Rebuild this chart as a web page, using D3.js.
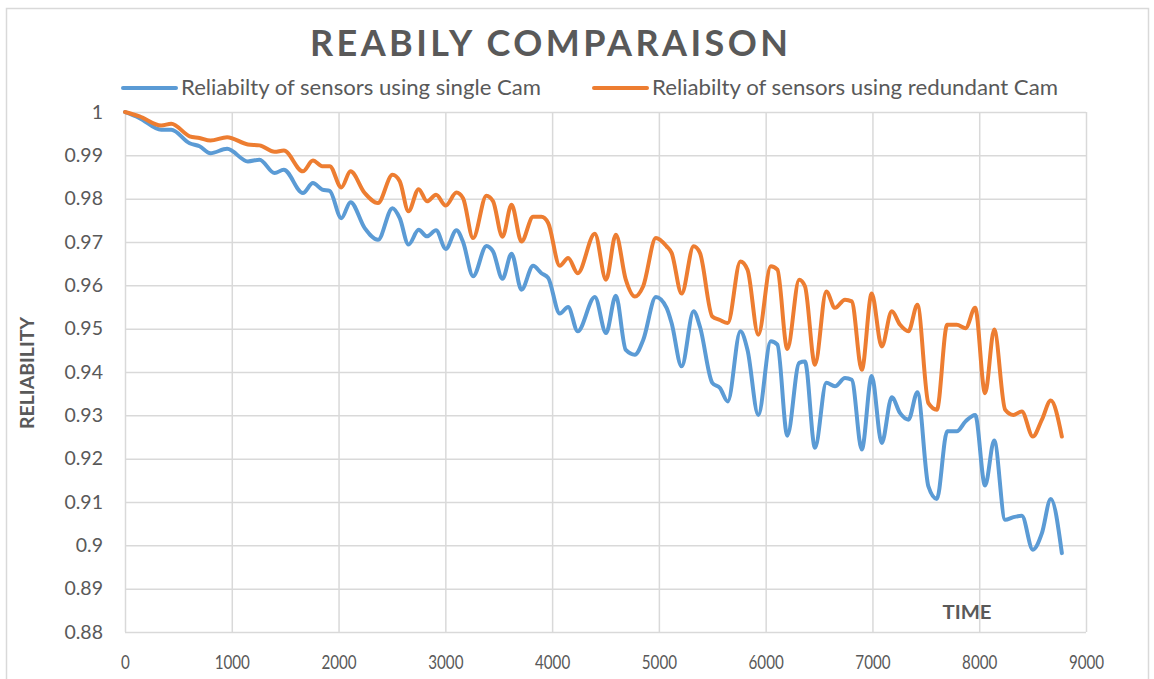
<!DOCTYPE html>
<meta charset="utf-8">
<script src="https://d3js.org/d3.v7.min.js"></script>
<html>
<head>
<style>
body { margin: 0; background-color: white; }
.tick text { font-family: Lato, "Open Sans", sans-serif; fill: #595959; }
</style>
</head>
<body>
<div id="my_dataviz"></div>
</body>
</html>

<script>

// data (time, reliability)
var times = [0, 136, 339, 433, 605, 698, 800, 956, 1151, 1260, 1401, 1487, 1666, 1760, 1847, 1917,
  2026, 2112, 2245, 2369, 2505, 2573, 2655, 2750, 2828, 2913, 3004, 3104, 3166, 3260, 3385, 3447,
  3535, 3620, 3713, 3822, 3900, 3963, 4072, 4150, 4240, 4400, 4505, 4597, 4690, 4775, 4853, 4972,
  5072, 5119, 5213, 5325, 5384, 5500, 5572, 5645, 5763, 5830, 5931, 6048, 6110, 6203, 6314, 6368,
  6462, 6568, 6649, 6743, 6806, 6900, 6993, 7087, 7181, 7259, 7337, 7421, 7524, 7603, 7700, 7790,
  7872, 7962, 8055, 8140, 8243, 8321, 8399, 8502, 8587, 8670, 8774];

var singleCam = [1.0, 0.9986, 0.9959, 0.9959, 0.9928, 0.9921, 0.9905, 0.9915, 0.9886, 0.989, 0.9859, 0.9867, 0.9813, 0.9836, 0.9821, 0.9818,
  0.9755, 0.9792, 0.9732, 0.9705, 0.9778, 0.9755, 0.9694, 0.9728, 0.9713, 0.9727, 0.9684, 0.9727, 0.9700, 0.9621, 0.9691, 0.9678,
  0.9615, 0.9673, 0.959, 0.9645, 0.9628, 0.9617, 0.9535, 0.955, 0.9494, 0.9573, 0.949, 0.9576, 0.9451, 0.944, 0.9474, 0.9573,
  0.9548, 0.9513, 0.9413, 0.954, 0.9505, 0.9375, 0.9363, 0.9332, 0.9494, 0.9451, 0.9301, 0.9471, 0.9463, 0.9253, 0.9421, 0.9424,
  0.9225, 0.9375, 0.9367, 0.9386, 0.9382, 0.9221, 0.9391, 0.9236, 0.9342, 0.9305, 0.929, 0.9353, 0.9136, 0.9107, 0.9263, 0.9263,
  0.9286, 0.9301, 0.9138, 0.9242, 0.9059, 0.9065, 0.9068, 0.899, 0.9028, 0.9107, 0.8982];

var redundantCam = [1.0, 0.999, 0.9969, 0.9973, 0.9944, 0.994, 0.9934, 0.9942, 0.9925, 0.9923, 0.9908, 0.9911, 0.9863, 0.9888, 0.9875, 0.9875,
  0.9826, 0.9863, 0.9813, 0.979, 0.9855, 0.984, 0.9771, 0.9822, 0.9794, 0.9809, 0.9784, 0.9814, 0.9801, 0.9709, 0.9807, 0.9794,
  0.9712, 0.9786, 0.9701, 0.9758, 0.9758, 0.9744, 0.9645, 0.9663, 0.9628, 0.9719, 0.9613, 0.9717, 0.9613, 0.9574, 0.9598, 0.9709,
  0.969, 0.9675, 0.9581, 0.969, 0.9675, 0.9528, 0.952, 0.9513, 0.9655, 0.9636, 0.9486, 0.9644, 0.9636, 0.9453, 0.9613, 0.9598,
  0.9417, 0.9586, 0.9548, 0.9567, 0.9563, 0.9405, 0.9581, 0.9459, 0.954, 0.9509, 0.9494, 0.9555, 0.9328, 0.9313, 0.9509, 0.9509,
  0.9501, 0.9548, 0.9351, 0.9498, 0.9313, 0.9301, 0.9309, 0.9251, 0.929, 0.9334, 0.9251];

var seriesNames = ["Reliabilty of sensors using single Cam", "Reliabilty of sensors using redundant Cam"];
var seriesColors = ["#5B9BD5", "#ED7D31"];

var xTicks = [0, 1000, 2000, 3000, 4000, 5000, 6000, 7000, 8000, 9000];
var yTicks = [1, 0.99, 0.98, 0.97, 0.96, 0.95, 0.94, 0.93, 0.92, 0.91, 0.9, 0.89, 0.88];
var yTickLabels = ["1", "0.99", "0.98", "0.97", "0.96", "0.95", "0.94", "0.93", "0.92", "0.91", "0.9", "0.89", "0.88"];

// set the dimensions and margins of the graph
var W = 1154, H = 679;
var margin = {top: 112, right: 68, bottom: 47, left: 125},
    width = W - margin.left - margin.right,
    height = H - margin.top - margin.bottom;

var root = d3.select("#my_dataviz")
  .append("svg")
    .attr("width", W)
    .attr("height", H);

// chart border
root.append("rect")
  .attr("x", 6.5).attr("y", 8.5)
  .attr("width", 1142).attr("height", 690)
  .style("fill", "white")
  .style("stroke", "#D9D9D9")
  .style("stroke-width", 1.5);

var svg = root.append("g")
  .attr("transform", "translate(" + margin.left + "," + margin.top + ")");

var x = d3.scaleLinear().domain([0, 9000]).range([0, width]);
var y = d3.scaleLinear().domain([0.88, 1]).range([height, 0]);

// X axis + vertical gridlines
var xAxis = svg.append("g")
  .attr("transform", "translate(0," + height + ")")
  .call(d3.axisBottom(x).tickValues(xTicks).tickSize(-height).tickPadding(24).tickFormat(d3.format("d")));
xAxis.select(".domain").remove();
xAxis.selectAll("line").style("stroke", "#D9D9D9").style("stroke-width", 1.5);
xAxis.selectAll("text")
  .style("font-size", "19px")
  .attr("transform", "scale(0.8,1)");

// Y axis + horizontal gridlines
var yAxis = svg.append("g")
  .call(d3.axisLeft(y).tickValues(yTicks).tickSize(-width).tickPadding(22)
    .tickFormat(function(d, i) { return yTickLabels[i]; }));
yAxis.select(".domain").remove();
yAxis.selectAll("line").style("stroke", "#D9D9D9").style("stroke-width", 1.5);
yAxis.selectAll("text").style("font-size", "19.5px");

// lines
var line = d3.line()
  .x(function(d) { return x(d[0]); })
  .y(function(d) { return y(d[1]); })
  .curve(d3.curveMonotoneX);

[singleCam, redundantCam].forEach(function(vals, k) {
  svg.append("path")
    .datum(times.map(function(t, i) { return [t, vals[i]]; }))
    .attr("fill", "none")
    .attr("stroke", seriesColors[k])
    .attr("stroke-width", 4)
    .attr("stroke-linejoin", "round")
    .attr("stroke-linecap", "round")
    .attr("d", line);
});

// title
root.append("text")
  .attr("x", 549).attr("y", 56)
  .attr("text-anchor", "middle")
  .attr("textLength", 478)
  .attr("lengthAdjust", "spacing")
  .style("font-family", "Lato, 'Open Sans', sans-serif")
  .style("font-weight", "bold")
  .style("font-size", "36px")
  .style("fill", "#595959")
  .text("REABILY COMPARAISON");

// legend
var legendX = [123, 594];
var legendW = [360, 406];
seriesNames.forEach(function(name, k) {
  root.append("line")
    .attr("x1", legendX[k]).attr("x2", legendX[k] + 53)
    .attr("y1", 88).attr("y2", 88)
    .attr("stroke", seriesColors[k])
    .attr("stroke-width", 4)
    .attr("stroke-linecap", "round");
  root.append("text")
    .attr("x", legendX[k] + 58).attr("y", 88)
    .attr("dy", "0.35em")
    .attr("textLength", legendW[k])
    .attr("lengthAdjust", "spacingAndGlyphs")
    .style("font-family", "Lato, 'Open Sans', sans-serif")
    .style("font-size", "21px")
    .style("fill", "#595959")
    .text(name);
});

// axis titles
root.append("text")
  .attr("transform", "translate(34,373) rotate(-90)")
  .attr("text-anchor", "middle")
  .attr("textLength", 112)
  .attr("lengthAdjust", "spacingAndGlyphs")
  .style("font-family", "Lato, 'Open Sans', sans-serif")
  .style("font-weight", "bold")
  .style("font-size", "19px")
  .style("fill", "#595959")
  .text("RELIABILITY");

root.append("text")
  .attr("x", 967).attr("y", 619)
  .attr("text-anchor", "middle")
  .attr("textLength", 49)
  .attr("lengthAdjust", "spacingAndGlyphs")
  .style("font-family", "Lato, 'Open Sans', sans-serif")
  .style("font-weight", "bold")
  .style("font-size", "19px")
  .style("fill", "#595959")
  .text("TIME");

</script>
